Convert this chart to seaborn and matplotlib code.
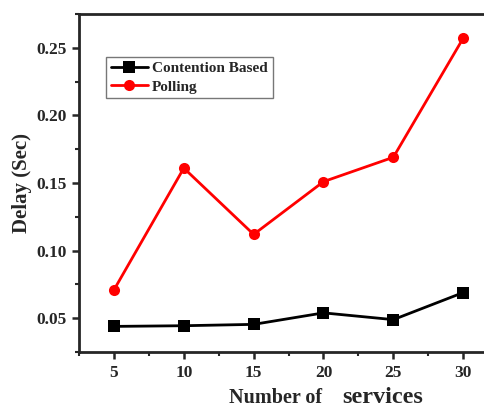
import matplotlib
matplotlib.use('Agg')
import matplotlib.pyplot as plt
import seaborn as sns
import pandas as pd
from matplotlib.ticker import MultipleLocator

# data
services = [5, 10, 15, 20, 25, 30]
contention = [0.044, 0.0445, 0.0455, 0.054, 0.049, 0.069]
polling = [0.071, 0.161, 0.112, 0.151, 0.169, 0.257]

sns.set_style('ticks')
plt.rcParams['font.family'] = ['Liberation Serif', 'DejaVu Serif']
plt.rcParams['font.weight'] = 'bold'

df = pd.DataFrame({
    'services': services * 2,
    'delay': contention + polling,
    'method': ['Contention Based'] * 6 + ['Polling'] * 6,
})

fig = plt.figure(figsize=(4.85, 4.08), dpi=100)
ax = fig.add_axes([0.163, 0.137, 1.027 - 0.163, 0.966 - 0.137])

sns.lineplot(data=df, x='services', y='delay', hue='method', style='method',
             palette={'Contention Based': 'black', 'Polling': '#ff0000'},
             markers={'Contention Based': 's', 'Polling': 'o'}, dashes=False,
             markersize=8, linewidth=2, markeredgewidth=0, ax=ax)

ax.set_xlim(2.5, 32.5)
ax.set_ylim(0.025, 0.275)
ax.xaxis.set_major_locator(MultipleLocator(5))
ax.xaxis.set_minor_locator(MultipleLocator(2.5))
ax.yaxis.set_major_locator(MultipleLocator(0.05))
ax.yaxis.set_minor_locator(MultipleLocator(0.025))
ax.yaxis.set_major_formatter(matplotlib.ticker.FormatStrFormatter('%.2f'))
ax.tick_params(which='major', direction='out', length=5, width=1.8, labelsize=12.5, pad=4)
ax.tick_params(which='minor', direction='out', length=3, width=1.5)
for lbl in ax.get_xticklabels() + ax.get_yticklabels():
    lbl.set_fontweight('bold')

for s in ['left', 'bottom', 'top']:
    ax.spines[s].set_linewidth(2)
ax.spines['right'].set_visible(False)

ax.set_xlabel('')
ax.set_ylabel('Delay (Sec)', fontsize=15, fontweight='bold', labelpad=3)
fig.text(0.472, 0.012, 'Number of', fontsize=14.5, fontweight='bold', ha='left')
fig.text(0.705, 0.012, 'services', fontsize=17.5, fontweight='bold', ha='left')

leg = ax.legend(loc='upper left', bbox_to_anchor=(0.047, 0.895), fontsize=11,
                frameon=True, fancybox=False, edgecolor='#555555',
                handlelength=2.4, borderpad=0.3, labelspacing=0.3, handletextpad=0.3)
leg.get_frame().set_linewidth(1)
for t in leg.get_texts():
    t.set_fontweight('bold')

fig.savefig('out.png', dpi=100)
